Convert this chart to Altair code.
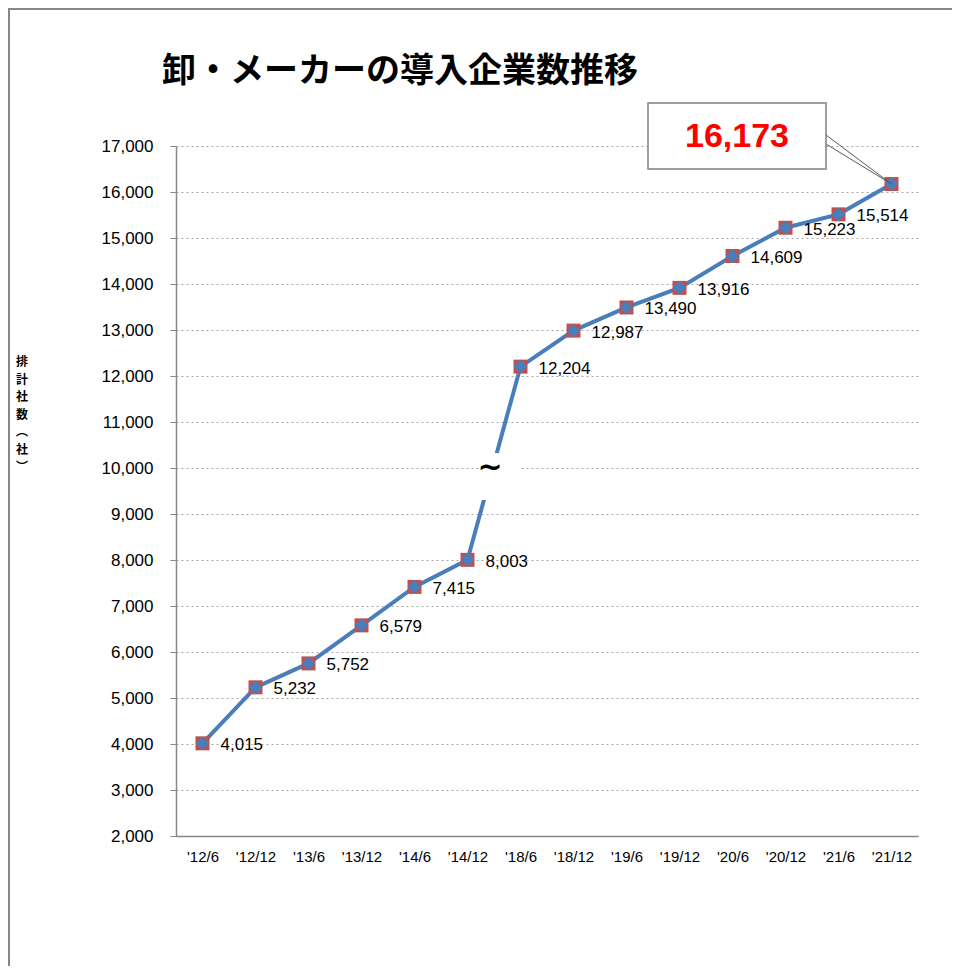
import altair as alt
import pandas as pd

periods = ["'12/6", "'12/12", "'13/6", "'13/12", "'14/6", "'14/12", "'18/6",
           "'18/12", "'19/6", "'19/12", "'20/6", "'20/12", "'21/6", "'21/12"]
values = [4015, 5232, 5752, 6579, 7415, 8003, 12204,
          12987, 13490, 13916, 14609, 15223, 15514, 16173]
y_ticks = list(range(2000, 17001, 1000))
title_text = "卸・メーカーの導入企業数推移"
y_title_lines = ["排", "計", "社", "数", "︵", "社", "︶"]
callout_text = "16,173"

df = pd.DataFrame({"period": periods, "value": values})
df["label"] = [f"{v:,}" for v in values]
df_labels = df.iloc[:-1]
df_last = df.iloc[[-1]]
one = pd.DataFrame({"k": [0]})

W, H = 742, 690
xs = alt.X("period:N", sort=periods, scale=alt.Scale(type="point", padding=0.5),
           axis=alt.Axis(title=None, labelAngle=0, ticks=False, domainColor="#868686",
                         domainWidth=1.5, labelFont="Liberation Sans", labelFontSize=15,
                         labelColor="#000", labelPadding=13, grid=False))
ys = alt.Y("value:Q", scale=alt.Scale(domain=[2000, 17000], nice=False, zero=False),
           axis=alt.Axis(title=None, values=y_ticks, format=",d", tickSize=6,
                         tickColor="#868686", domainColor="#868686", domainWidth=1.5,
                         labelFont="Liberation Sans", labelFontSize=17, labelColor="#000",
                         labelPadding=17, grid=True, gridColor="#A6A6A6",
                         gridDash=[2, 3], gridWidth=1))

base = alt.Chart(df)

frame_top = alt.Chart(one).mark_rule(color="#868686", strokeWidth=2).encode(
    x=alt.value(-168), x2=alt.value(2000), y=alt.value(-137))
frame_left = alt.Chart(one).mark_rule(color="#868686", strokeWidth=2).encode(
    x=alt.value(-167), y=alt.value(-138), y2=alt.value(2000))

line = base.mark_line(color="#4A7EBB", strokeWidth=4).encode(x=xs, y=ys)
squares = base.mark_point(shape="square", filled=True, size=196, color="#C0504D", opacity=1).encode(
    x=alt.X("period:N", sort=periods), y="value:Q")
diamonds = base.mark_point(shape="diamond", filled=True, size=190, color="#4A7EBB", opacity=1).encode(
    x=alt.X("period:N", sort=periods), y="value:Q")
labels = alt.Chart(df_labels).mark_text(align="left", baseline="middle", dx=18, dy=2,
                                        font="Liberation Sans", fontSize=17, color="#000").encode(
    x=alt.X("period:N", sort=periods), y="value:Q", text="label:N")

gap = alt.Chart(one).mark_rect(fill="white").encode(
    x=alt.value(306), x2=alt.value(344), y=alt.value(307), y2=alt.value(354))
tilde = alt.Chart(one).mark_text(text="~", font="DejaVu Sans", fontWeight="bold",
                                 fontSize=30, color="#000", baseline="middle", align="center").encode(
    x=alt.value(314), y=alt.value(322))

leader1 = alt.Chart(df_last).mark_rule(color="#595959", strokeWidth=1).encode(
    x=alt.X("period:N", sort=periods), y="value:Q", x2=alt.value(650), y2=alt.value(-11))
leader2 = alt.Chart(df_last).mark_rule(color="#595959", strokeWidth=1).encode(
    x=alt.X("period:N", sort=periods), y="value:Q", x2=alt.value(650), y2=alt.value(-2))
box = alt.Chart(one).mark_rect(fill="white", stroke="#7F7F7F", strokeWidth=1.5).encode(
    x=alt.value(472), x2=alt.value(650), y=alt.value(-43), y2=alt.value(23))
callout = alt.Chart(one).mark_text(text=callout_text, font="Liberation Sans", fontWeight="bold",
                                   fontSize=34, color="#FF0000", align="center", baseline="middle").encode(
    x=alt.value(561), y=alt.value(-9))

title = alt.Chart(one).mark_text(text=title_text, font="Noto Sans CJK JP", fontWeight="bold",
                                 fontSize=34, color="#000", align="left", baseline="middle").encode(
    x=alt.value(-14), y=alt.value(-74))
ytitle = alt.Chart(one).mark_text(font="Noto Sans CJK JP", fontWeight="bold", fontSize=12,
                                  lineHeight=17.5, color="#000", align="center", baseline="middle").encode(
    x=alt.value(-154), y=alt.value(216), text=alt.value(y_title_lines))

chart = alt.layer(frame_top, frame_left, line, squares, diamonds, labels, gap, tilde,
                  leader1, leader2, box, callout, title, ytitle).properties(
    width=W, height=H,
    autosize=alt.AutoSizeParams(type="none"),
    padding={"left": 168, "top": 138, "right": 34, "bottom": 130},
    background="white",
).configure_view(stroke=None)

chart.save("out.html", embed_options={"renderer": "svg", "actions": False})
